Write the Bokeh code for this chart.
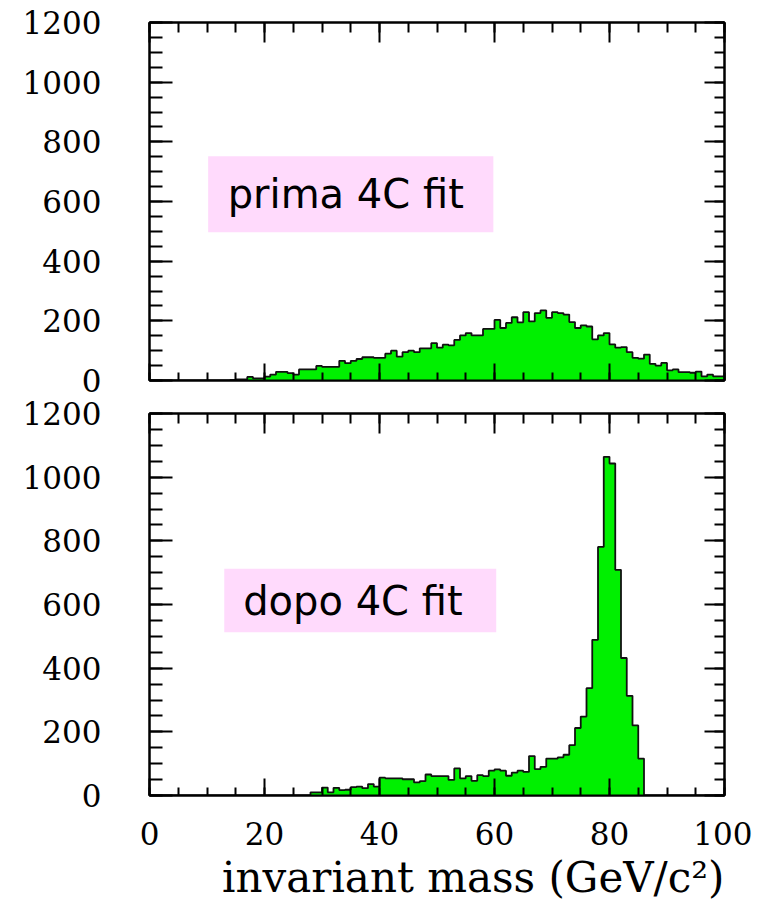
from bokeh.plotting import figure
from bokeh.models import (Range1d, FixedTicker, LinearAxis, BoxAnnotation, Label,
                          CustomJSTickFormatter, ColumnDataSource, Title)
from bokeh.layouts import column
from bokeh.embed import file_html
from bokeh.resources import INLINE

# ---- data: 100 bins of width 1 GeV/c^2, from 0 to 100 ----
bin_edges = list(range(0, 101))

counts_before = [
    0, 0, 0, 0, 0, 0, 0, 0, 0, 0,
    0, 0, 0, 0, 2, 4, 4, 12, 7, 7,
    13, 20, 29, 29, 25, 20, 37, 37, 37, 49,
    46, 46, 46, 66, 58, 66, 72, 78, 78, 76,
    76, 90, 100, 80, 95, 100, 95, 108, 108, 125,
    110, 120, 118, 136, 151, 159, 151, 151, 173, 173,
    203, 176, 193, 212, 195, 229, 198, 226, 235, 210,
    229, 226, 221, 196, 176, 185, 181, 138, 151, 159,
    121, 110, 112, 95, 76, 73, 87, 56, 50, 59,
    34, 37, 28, 28, 26, 30, 14, 20, 14, 14,
]

counts_after = [
    0, 0, 0, 0, 0, 0, 0, 0, 0, 0,
    0, 0, 0, 0, 0, 0, 0, 0, 0, 0,
    0, 0, 0, 0, 0, 0, 0, 0, 10, 10,
    25, 10, 24, 17, 18, 26, 28, 23, 36, 28,
    56, 54, 54, 54, 51, 51, 41, 45, 66, 61,
    61, 61, 49, 85, 54, 61, 46, 64, 61, 78,
    82, 78, 62, 72, 78, 74, 124, 83, 90, 116,
    116, 120, 128, 158, 212, 248, 337, 489, 781, 1064,
    1043, 709, 432, 313, 220, 116, 0, 0, 0, 0,
    0, 0, 0, 0, 0, 0, 0, 0, 0, 0,
]

x_major = [0, 20, 40, 60, 80, 100]
x_minor = list(range(0, 101, 5))
y_major = [0, 200, 400, 600, 800, 1000, 1200]
y_minor = list(range(0, 1201, 50))

x_title = "invariant mass (GeV/c\u00b2)"
labels = ["prima 4C fit", "dopo 4C fit"]

GREEN = "#00F000"
PINK = "#FFDAFC"
SERIF = "DejaVu Serif"


def style_axis(ax, major_in, minor_in):
    ax.major_tick_in = major_in
    ax.major_tick_out = 0
    ax.minor_tick_in = minor_in
    ax.minor_tick_out = 0
    ax.axis_line_color = "black"
    ax.axis_line_width = 2
    ax.major_tick_line_color = "black"
    ax.major_tick_line_width = 2
    ax.minor_tick_line_color = "black"
    ax.minor_tick_line_width = 2
    ax.major_label_text_font = SERIF
    ax.major_label_text_font_size = "31px"
    ax.major_label_text_color = "black"


def make_fig(counts, height, top, bottom, show_x_labels):
    p = figure(width=752, height=height,
               x_range=Range1d(0, 100), y_range=Range1d(0, 1200),
               output_backend="svg", toolbar_location=None,
               min_border_left=149, min_border_right=28,
               min_border_top=top, min_border_bottom=bottom)
    p.grid.visible = False
    p.outline_line_color = "black"
    p.outline_line_width = 2
    p.background_fill_color = "white"
    p.border_fill_color = "white"

    # left y axis
    ya = p.yaxis[0]
    ya.ticker = FixedTicker(ticks=y_major, minor_ticks=y_minor)
    style_axis(ya, 23, 13)
    ya.major_label_standoff = 48

    # bottom x axis
    xa = p.xaxis[0]
    xa.ticker = FixedTicker(ticks=x_major, minor_ticks=x_minor)
    style_axis(xa, 17, 8)
    if show_x_labels:
        xa.major_label_standoff = 26
    else:
        xa.formatter = CustomJSTickFormatter(code="return ''")
        xa.major_label_standoff = 0

    # mirrored axes (top and right), ticks only
    right = LinearAxis(ticker=FixedTicker(ticks=y_major, minor_ticks=y_minor),
                       formatter=CustomJSTickFormatter(code="return ''"))
    style_axis(right, 20, 10)
    right.major_label_standoff = 0
    p.add_layout(right, "right")
    above = LinearAxis(ticker=FixedTicker(ticks=x_major, minor_ticks=x_minor),
                       formatter=CustomJSTickFormatter(code="return ''"))
    style_axis(above, 20, 10)
    above.major_label_standoff = 0
    p.add_layout(above, "above")

    # histogram
    src = ColumnDataSource(dict(x=bin_edges,
                                y=list(counts) + [counts[-1]],
                                z=[0] * len(bin_edges)))
    p.varea_step(x="x", y1="z", y2="y", step_mode="after", source=src,
                 fill_color=GREEN)
    p.step(x="x", y="y", mode="after", source=src,
           line_color="#111111", line_width=1.8)
    return p


p1 = make_fig(counts_before, 396, 22, 16, False)
p1.add_layout(BoxAnnotation(left=10.2, right=59.8, bottom=497, top=752,
                            fill_color=PINK, fill_alpha=1.0, line_color=None))
p1.add_layout(Label(x=13.6, y=624, text=labels[0], text_font="DejaVu Sans",
                    text_font_size="40px", text_baseline="middle",
                    text_color="black"))

p2 = make_fig(counts_after, 508, 17, 105, True)
p2.add_layout(BoxAnnotation(left=13.0, right=60.3, bottom=513, top=712,
                            fill_color=PINK, fill_alpha=1.0, line_color=None))
p2.add_layout(Label(x=16.3, y=612, text=labels[1], text_font="DejaVu Sans",
                    text_font_size="40px", text_baseline="middle",
                    text_color="black"))
# x-axis title, right-aligned at the end of the axis (ROOT style)
p2.add_layout(Title(text=x_title, align="right", text_font=SERIF,
                    text_font_size="42px", text_font_style="normal",
                    text_color="black", standoff=6), "below")

layout = column(p1, p2, spacing=0)

open("out.html", "w").write(file_html(layout, INLINE))
